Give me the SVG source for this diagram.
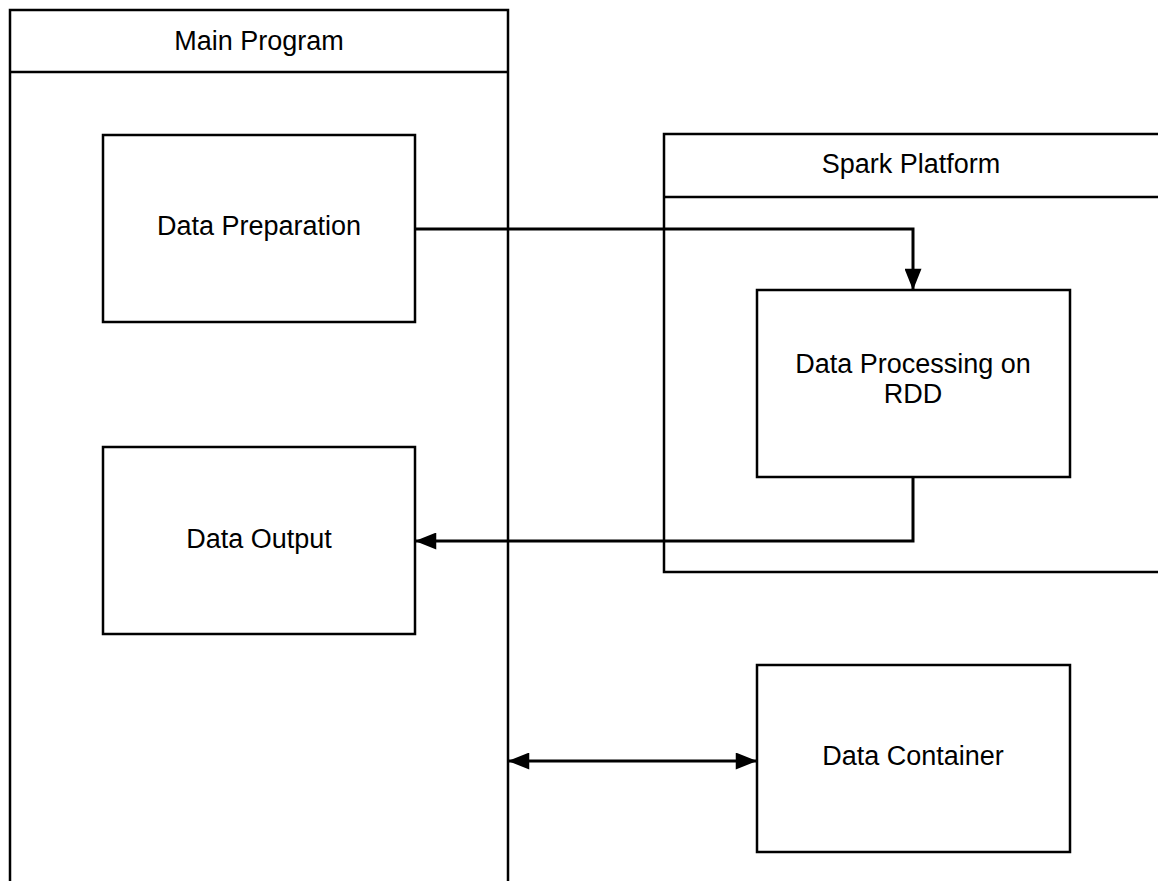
<svg xmlns="http://www.w3.org/2000/svg" width="1158" height="881" viewBox="0 0 1158 881">
<style>
.box{fill:#fff;stroke:#000;stroke-width:2.5}
.ln{fill:none;stroke:#000;stroke-width:2.5}
.t{font-family:"Liberation Sans",Arial,sans-serif;font-size:27px;fill:#000;text-anchor:middle}
.c{fill:none;stroke:#000;stroke-width:3}
</style>
<defs>
<marker id="a" viewBox="0 0 20 16" refX="20" refY="8" markerWidth="23" markerHeight="17" markerUnits="userSpaceOnUse" orient="auto-start-reverse">
<path d="M0,0 L20,8 L0,16 Z" fill="#000"/>
</marker>
</defs>
<rect width="1158" height="881" fill="#fff"/>
<g id="main-program">
<path class="ln" d="M10,883 V10 H508 V883"/>
<line class="ln" x1="10" y1="72" x2="508" y2="72"/>
<text class="t" x="259" y="50">Main Program</text>
</g>
<g id="spark-platform">
<path class="ln" d="M1160,134 H664 V572 H1160"/>
<line class="ln" x1="664" y1="197" x2="1160" y2="197"/>
<text class="t" x="911" y="173">Spark Platform</text>
</g>
<g id="data-preparation">
<rect class="box" x="103" y="135" width="312" height="187"/>
<text class="t" x="259" y="235">Data Preparation</text>
</g>
<g id="data-output">
<rect class="box" x="103" y="447" width="312" height="187"/>
<text class="t" x="259" y="548">Data Output</text>
</g>
<g id="data-processing">
<rect class="box" x="757" y="290" width="313" height="187"/>
<text class="t" x="913" y="373">Data Processing on</text>
<text class="t" x="913" y="403">RDD</text>
</g>
<g id="data-container">
<rect class="box" x="757" y="665" width="313" height="187"/>
<text class="t" x="913" y="765">Data Container</text>
</g>
<g id="connectors">
<path class="c" d="M415,229 H913 V290" marker-end="url(#a)"/>
<path class="c" d="M913,477 V541 H415" marker-end="url(#a)"/>
<path class="c" d="M508,761 H757" marker-start="url(#a)" marker-end="url(#a)"/>
</g>
</svg>
